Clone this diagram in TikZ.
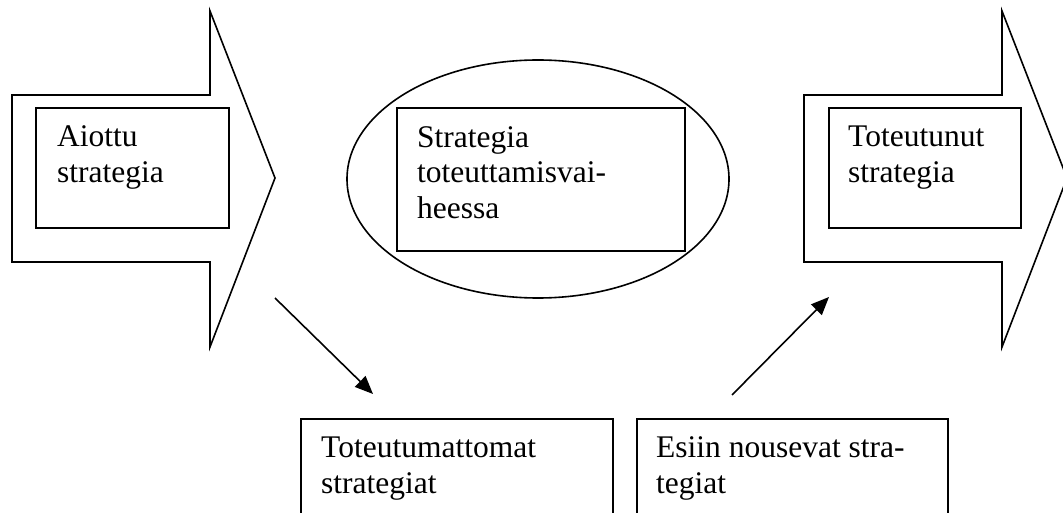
\documentclass[tikz,border=0pt]{standalone}
\usepackage{fontspec}
\setmainfont{Liberation Serif}
\usetikzlibrary{arrows.meta}
\tikzset{
  outline/.style={draw=black, line width=1.6pt, line join=miter},
  box/.style={draw=black, line width=1.6pt, rectangle, inner sep=0pt, anchor=north west},
  label/.style={anchor=base west, inner sep=0pt, align=left, font=\fontsize{31.5}{36}\selectfont},
  conn/.style={draw=black, line width=1.6pt, -{Triangle[length=18pt,width=15pt]}}
}
\begin{document}
\begin{tikzpicture}[x=1pt, y=-1pt]
\useasboundingbox (0,0) rectangle (1063,513);
\clip (0,0) rectangle (1063,513);
\fill[white] (0,0) rectangle (1063,513);
% big arrows
\draw[outline] (12,95) -- (210,95) -- (210,11) -- (275,178) -- (210,347) -- (210,262) -- (12,262) -- cycle;
\draw[outline] (804,95) -- (1002,95) -- (1002,11) -- (1067,178) -- (1002,347) -- (1002,262) -- (804,262) -- cycle;
% ellipse
\draw[outline] (538,179) ellipse [x radius=191, y radius=119];
% boxes
\node[box, minimum width=193pt, minimum height=120pt] (aiottu) at (35,107) {};
\node[box, minimum width=192pt, minimum height=120pt] (toteutunut) at (828,107) {};
\node[box, minimum width=288pt, minimum height=143pt] (toteutus) at (396,107) {};
\node[box, minimum width=312pt, minimum height=120pt] (toteutumattomat) at (300,418) {};
\node[box, minimum width=311pt, minimum height=120pt] (esiin) at (636,418) {};
% texts (anchored at the baseline of the last line)
\node[label] (t1) at (57,183) {Aiottu\\strategia};
\node[label] (t2) at (848,183) {Toteutunut\\strategia};
\node[label] (t3) at (417,219) {Strategia\\toteuttamisvai-\\heessa};
\node[label] (t4) at (321,493) {Toteutumattomat\\strategiat};
\node[label] (t5) at (656,493) {Esiin nousevat stra-\\tegiat};
% connectors
\coordinate (a1s) at (275,298);
\coordinate (a1e) at (373,394);
\coordinate (a2s) at (732,395);
\coordinate (a2e) at (829,297);
\draw[conn] (a1s) -- (a1e);
\draw[conn] (a2s) -- (a2e);
\end{tikzpicture}
\end{document}
